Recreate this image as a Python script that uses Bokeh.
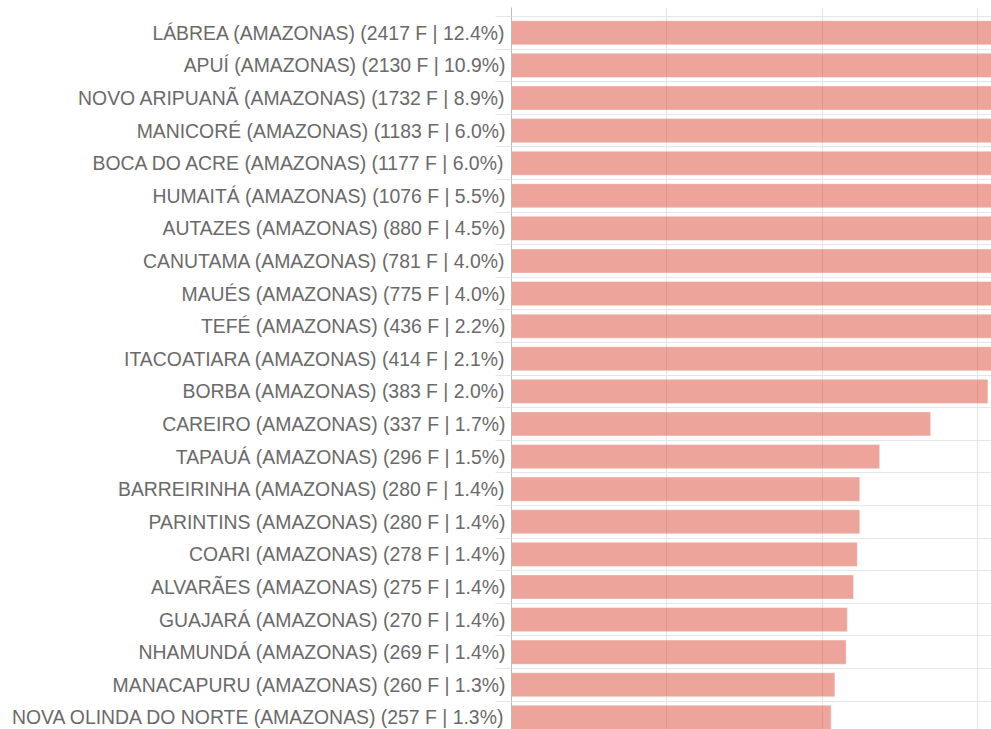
from bokeh.plotting import figure
from bokeh.models import Range1d, FixedTicker, ColumnDataSource
from bokeh.embed import file_html
from bokeh.resources import INLINE

municipios = ["LÁBREA", "APUÍ", "NOVO ARIPUANÃ", "MANICORÉ", "BOCA DO ACRE",
              "HUMAITÁ", "AUTAZES", "CANUTAMA", "MAUÉS", "TEFÉ", "ITACOATIARA",
              "BORBA", "CAREIRO", "TAPAUÁ", "BARREIRINHA", "PARINTINS", "COARI",
              "ALVARÃES", "GUAJARÁ", "NHAMUNDÁ", "MANACAPURU", "NOVA OLINDA DO NORTE"]
estado = "AMAZONAS"
focos = [2417, 2130, 1732, 1183, 1177, 1076, 880, 781, 775, 436, 414,
         383, 337, 296, 280, 280, 278, 275, 270, 269, 260, 257]
percentuais = [12.4, 10.9, 8.9, 6.0, 6.0, 5.5, 4.5, 4.0, 4.0, 2.2, 2.1,
               2.0, 1.7, 1.5, 1.4, 1.4, 1.4, 1.4, 1.4, 1.4, 1.3, 1.3]
grid_x = [125, 250, 375]

labels = [f"{m} ({estado}) ({f} F | {p:.1f}%)" for m, f, p in zip(municipios, focos, percentuais)]
pos = list(range(len(municipios)))

src = ColumnDataSource(dict(y=pos, right=focos, label=labels))

W, H = 991, 729
p = figure(width=W, height=H, output_backend="svg", toolbar_location=None,
           x_range=Range1d(0, 385.9), y_range=Range1d(21.372, -0.776),
           x_axis_location=None, min_border_left=511, min_border_top=7,
           min_border_bottom=0, min_border_right=0)
p.outline_line_color = None
p.background_fill_color = "white"

p.hbar(y="y", left=0, right="right", height=0.74, source=src,
       fill_color="#dc5a48", fill_alpha=0.55, line_color="white", line_alpha=0.4,
       line_width=1)

p.xgrid.ticker = FixedTicker(ticks=grid_x)
p.xgrid.grid_line_color = "#e3e3e3"
p.xgrid.grid_line_width = 1

bounds = [i - 0.5 for i in range(len(municipios) + 1)]
p.ygrid.ticker = FixedTicker(ticks=bounds)
p.ygrid.grid_line_color = "#e6e6e6"

ax = p.yaxis[0]
ax.ticker = FixedTicker(ticks=pos, minor_ticks=bounds)
ax.major_label_overrides = {i: lab for i, lab in zip(pos, labels)}
ax.major_tick_out = 0
ax.major_tick_in = 0
ax.minor_tick_out = 16
ax.minor_tick_in = 0
ax.minor_tick_line_color = "#e6e6e6"
ax.axis_line_color = "#bdbdbd"
ax.major_label_standoff = -10
ax.major_label_text_font = "Liberation Sans"
ax.major_label_text_font_size = "19.4px"
ax.major_label_text_color = "#6a6a6a"

open("out.html", "w").write(file_html(p, INLINE))
